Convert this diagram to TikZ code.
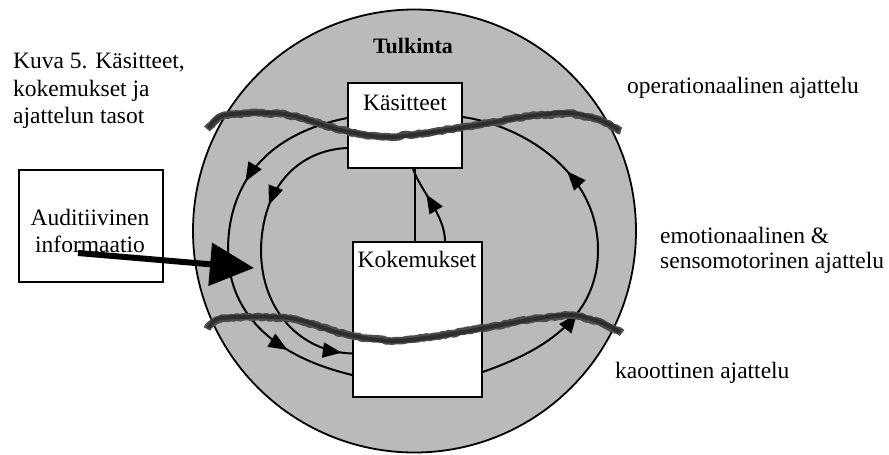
\documentclass[tikz,border=0pt]{standalone}
\usepackage{fontspec}
\setmainfont{Liberation Serif}
\usetikzlibrary{arrows.meta,calc,decorations.markings,decorations.pathmorphing}

\definecolor{areagray}{gray}{0.73}
\definecolor{bandgray}{gray}{0.30}
\definecolor{bandcore}{gray}{0.18}

\begin{document}
\begin{tikzpicture}[x=1pt,y=-1pt,
  txt/.style={font=\fontsize{23.5}{27.5}\selectfont, inner sep=0pt},
  box/.style={draw=black, fill=white, line width=1.3pt, inner sep=0pt},
  flow/.style={line width=2pt, postaction={decorate}},
  head/.tip={Triangle[length=19pt,width=15pt]},
  bandrough/.style={line width=7.5pt, draw=bandgray, line join=round, line cap=butt,
    decorate, decoration={random steps, segment length=3pt, amplitude=0.9pt}},
  bandcoreline/.style={line width=4pt, draw=bandcore, line join=round, line cap=butt}
]
\pgfmathsetseed{7}
\useasboundingbox (0,0) rectangle (889,455);

% interpretation area
\node[circle, draw=black, fill=areagray, line width=1.8pt, minimum size=443pt, inner sep=0pt]
  (area) at (414.5,231) {};
\node[txt, anchor=base, font=\bfseries\fontsize{22}{25}\selectfont] (tul) at (413,53) {Tulkinta};

% boxes
\node[box, minimum width=114pt, minimum height=85pt] (kas) at (405,125.5) {};
\node[box, minimum width=129pt, minimum height=155pt] (kok) at (417.5,319.5) {};
\node[box, minimum width=144pt, minimum height=112pt] (aud) at (91,226) {};

% flows from Käsitteet down to Kokemukset (left side)
\draw[flow, decoration={markings,
    mark=at position 0.32 with {\arrow{head}},
    mark=at position 0.82 with {\arrow{head}}}]
  ([yshift=7.5pt]kas.west) .. controls (260,135) and (228,190) .. (228,250)
  .. controls (228,318) and (280,358) .. ([yshift=-55.5pt]kok.west);
\draw[flow, decoration={markings,
    mark=at position 0.34 with {\arrow{head}},
    mark=at position 0.965 with {\arrow{head}}}]
  ([yshift=-22.5pt]kas.west) .. controls (300,150) and (262,185) .. (261,250)
  .. controls (261,310) and (300,352) .. ([yshift=-34pt]kok.west);

% flow from Kokemukset up to Käsitteet (right side)
\draw[flow, decoration={markings,
    mark=at position 0.29 with {\arrow{head}},
    mark=at position 0.69 with {\arrow{head}}}]
  ([yshift=-52.5pt]kok.east) .. controls (540,352) and (598,320) .. (598,250)
  .. controls (598,170) and (520,125) .. ([yshift=8.5pt]kas.east);

% direct links between the boxes
\draw[line width=2pt] ([xshift=10pt]kas.south) -- ([xshift=10pt]kas.south |- kok.north);
\draw[flow, decoration={markings, mark=at position 0.64 with {\arrow{head}}}]
  ([xshift=27.5pt]kok.north) .. controls (445,215) and (420,190) .. ([xshift=8pt]kas.south);

% level boundaries: ragged outer stroke on a polyline, smooth dark core
\draw[bandrough] (207,129) -- (216,120) -- (225,115) -- (250,113) -- (285,114) -- (312,121)
  -- (340,130) -- (365,135) -- (390,137) -- (425,133) -- (460,128) -- (495,122)
  -- (530,116) -- (570,113) -- (600,120) -- (621,131);
\draw[bandcoreline] plot[smooth, tension=0.5] coordinates
  {(209,128) (225,115) (285,114) (340,130) (390,137) (460,128) (530,116) (570,113) (600,120) (619,130)};
\draw[bandrough] (207,329) -- (214,322) -- (222,318) -- (255,317) -- (290,318) -- (315,325)
  -- (340,333) -- (365,338) -- (390,341) -- (415,339) -- (440,336) -- (465,331)
  -- (490,327) -- (515,322) -- (540,318) -- (573,315) -- (600,322) -- (622,333);
\draw[bandcoreline] plot[smooth, tension=0.5] coordinates
  {(209,328) (222,318) (290,318) (340,333) (390,341) (440,336) (490,327) (540,318) (573,315) (600,322) (620,332)};

% box texts
\node[txt, anchor=base] (kastxt) at (405,110) {Käsitteet};
\node[txt, anchor=base] (koktxt) at (417,267) {Kokemukset};
\node[txt, anchor=base] (aud1) at (90,225) {Auditiivinen};
\node[txt, anchor=base] (aud2) at (90,252) {informaatio};

% auditory input
\coordinate (entry) at (254,268);
\draw[line width=6pt, -{Triangle[length=44pt,width=42pt]}] ($(aud.center)+(-13,27)$) -- (entry);

% caption and level names
\node[txt, anchor=base west] (cap1) at (13,68) {Kuva 5. Käsitteet,};
\node[txt, anchor=base west] (cap2) at (13,96) {kokemukset ja};
\node[txt, anchor=base west] (cap3) at (13,123) {ajattelun tasot};
\node[txt, anchor=base west] (oper) at (627,93) {operationaalinen ajattelu};
\node[txt, anchor=base west] (emo1) at (660,243) {emotionaalinen \&};
\node[txt, anchor=base west] (emo2) at (660,268) {sensomotorinen ajattelu};
\node[txt, anchor=base west] (kao) at (615,378) {kaoottinen ajattelu};
\end{tikzpicture}
\end{document}
